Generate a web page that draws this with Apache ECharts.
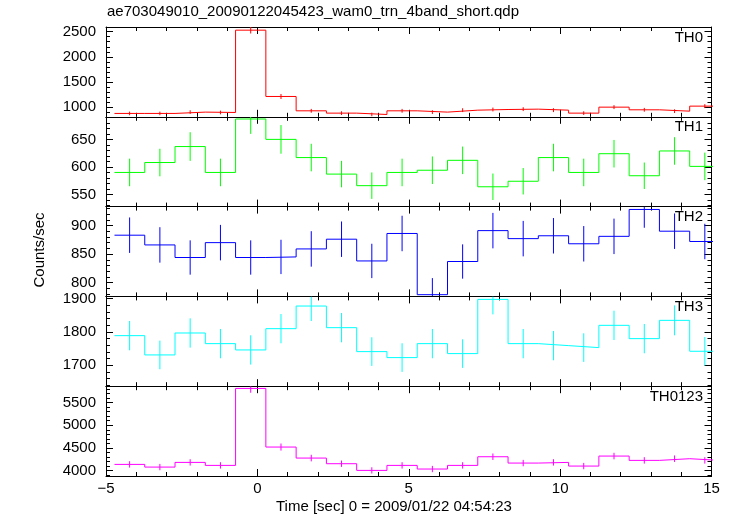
<!DOCTYPE html>
<html><head><meta charset="utf-8">
<script src="https://cdn.jsdelivr.net/npm/echarts@6/dist/echarts.min.js"></script>
<style>html,body{margin:0;padding:0;background:#fff}#c{width:733px;height:516px}</style>
</head><body><div id="c"></div>
<script>
// ---- data ----
const binCenters = [-4.22,-3.22,-2.22,-1.22,-0.22,0.78,1.78,2.78,3.78,4.78,5.78,6.78,7.78,8.78,9.78,10.78,11.78,12.78,13.78,14.78];
const binWidth = 1.0;
const channelNames = ['TH0','TH1','TH2','TH3','TH0123'];
const th0     = [875,875,901,894,2530,1212,927,881,854,927,901,940,953,960,940,881,1000,947,920,1020];
const th0Err  = [36,36,37,37,66,50,38,37,36,38,37,38,38,38,38,37,39,38,37,39];
const th1     = [590,608,637,590,687,650,617,587,566,590,594,612,564,574,617,590,624,584,629,601];
const th1Err  = [25,25,26,25,27,26,25,24,24,25,25,25,24,24,25,25,25,24,25,25];
const th2     = [883,866,844,870,844,845,859,876,838,886,779,837,891,877,882,868,881,928,890,872];
const th2Err  = [31,31,30,31,30,30,31,31,30,31,29,30,31,31,31,31,31,32,31,31];
const th3     = [1789,1731,1797,1765,1746,1810,1878,1813,1741,1723,1765,1735,1898,1765,1759,1753,1820,1780,1835,1742];
const th3Err  = [44,43,44,44,44,44,45,44,43,43,44,43,45,44,44,43,44,44,45,43];
const th0123  = [4139,4080,4183,4117,5808,4520,4278,4154,4007,4117,4037,4117,4307,4168,4183,4102,4322,4227,4264,4227];
const th0123Err = [70,70,70,70,95,78,72,70,69,70,69,70,72,70,70,70,72,71,72,71];
const xTickLabels = [-5,0,5,10,15];
const yMajorSteps = [500,50,50,100,500];
const yRanges = [[808,2593],[528,691],[776,933],[1637,1907],[3884,5857]];
const colors = ['#ff0000','#00ff00','#0000ff','#00ffff','#ff00ff'];
const titleText = 'ae703049010_20090122045423_wam0_trn_4band_short.qdp';
const xTitle = 'Time [sec] 0 = 2009/01/22 04:54:23';
const yTitle = 'Counts/sec';

const values = [th0, th1, th2, th3, th0123];
const errors = [th0Err, th1Err, th2Err, th3Err, th0123Err];

// ---- layout ----
const FONT = 'Liberation Sans';
const L = 106, R = 733 - 711.5, TOP = 27, PH = 89.8;

const grids = [], xAxes = [], yAxes = [], series = [], graphics = [];
const tickStyle = {color:'#000', width:1};
for (let i = 0; i < 5; i++) {
  const top = TOP + i * PH;
  grids.push({left: L, right: R, top: top, height: PH});
  const isLast = i === 4;
  const xBase = {
    type:'value', gridIndex:i, min:-5, max:15, interval:5,
    axisLine:{show:true, onZero:false, lineStyle:{color:'#000', width:1}},
    axisTick:{show:true, inside:true, length:7, lineStyle:tickStyle},
    minorTick:{show:true, splitNumber:5, length:4, lineStyle:tickStyle},
    splitLine:{show:false}, minorSplitLine:{show:false}
  };
  xAxes.push(Object.assign({}, xBase, {position:'bottom',
    axisLabel:{show:isLast, margin:5, fontSize:15, color:'#000', fontFamily:FONT,
      formatter: v => (xTickLabels.indexOf(v) >= 0 ? String(v).replace('-', '\u2212') : '')}}));
  xAxes.push(Object.assign({}, xBase, {position:'top', axisLabel:{show:false}}));
  const yBase = {
    type:'value', gridIndex:i, min:yRanges[i][0], max:yRanges[i][1],
    minInterval:yMajorSteps[i], maxInterval:yMajorSteps[i], splitNumber:3,
    axisLine:{show:true, onZero:false, lineStyle:{color:'#000', width:1}},
    axisTick:{show:true, inside:true, length:7, lineStyle:tickStyle},
    minorTick:{show:true, splitNumber:5, length:4, lineStyle:tickStyle},
    splitLine:{show:false}, minorSplitLine:{show:false}
  };
  yAxes.push(Object.assign({}, yBase, {position:'left',
    axisLabel:{show:true, showMinLabel:false, showMaxLabel:false, margin:10, fontSize:15, color:'#000', fontFamily:FONT,
      formatter: v => String(v)}}));
  yAxes.push(Object.assign({}, yBase, {position:'right', axisLabel:{show:false}}));

  const vals = values[i], errs = errors[i], col = colors[i];
  const stepPts = [];
  binCenters.forEach((c, k) => {
    stepPts.push([c - binWidth / 2, vals[k]]);
    stepPts.push([c + binWidth / 2, vals[k]]);
  });
  series.push({
    type:'line', xAxisIndex:2*i, yAxisIndex:2*i, data:stepPts,
    showSymbol:false, symbol:'none', clip:true, silent:true, animation:false,
    lineStyle:{color:col, width:1}
  });
  const yr = yRanges[i];
  series.push({
    type:'custom', xAxisIndex:2*i, yAxisIndex:2*i, clip:true, silent:true, animation:false,
    encode:{x:0, y:1},
    data: binCenters.map((c, k) => [c, vals[k], errs[k]]),
    renderItem: (params, api) => {
      const c = api.value(0), v = api.value(1), e = api.value(2);
      const lo = Math.max(v - e, yr[0]), hi = Math.min(v + e, yr[1]);
      const p1 = api.coord([c, lo]), p2 = api.coord([c, hi]);
      return {type:'line', shape:{x1:p1[0], y1:p1[1], x2:p2[0], y2:p2[1]},
              style:{stroke:col, lineWidth:1}};
    }
  });
  graphics.push({type:'text', right: R + 8.5, top: top + 3,
    style:{text:channelNames[i], font:'15px "' + FONT + '"', fill:'#000'}});
}
graphics.push({type:'text', left:107, top:4,
  style:{text:titleText, font:'15px "' + FONT + '"', fill:'#000'}});
graphics.push({type:'text', left:276, top:499,
  style:{text:xTitle, font:'15px "' + FONT + '"', fill:'#000'}});
graphics.push({type:'text', x:40, y:250, rotation:Math.PI/2,
  style:{text:yTitle, font:'15px "' + FONT + '"', fill:'#000', align:'center', verticalAlign:'middle'}});

const chart = echarts.init(document.getElementById('c'), null, {renderer:'canvas'});
chart.setOption({
  animation:false, backgroundColor:'#fff',
  grid:grids, xAxis:xAxes, yAxis:yAxes, series:series, graphic:graphics
});
</script></body></html>
